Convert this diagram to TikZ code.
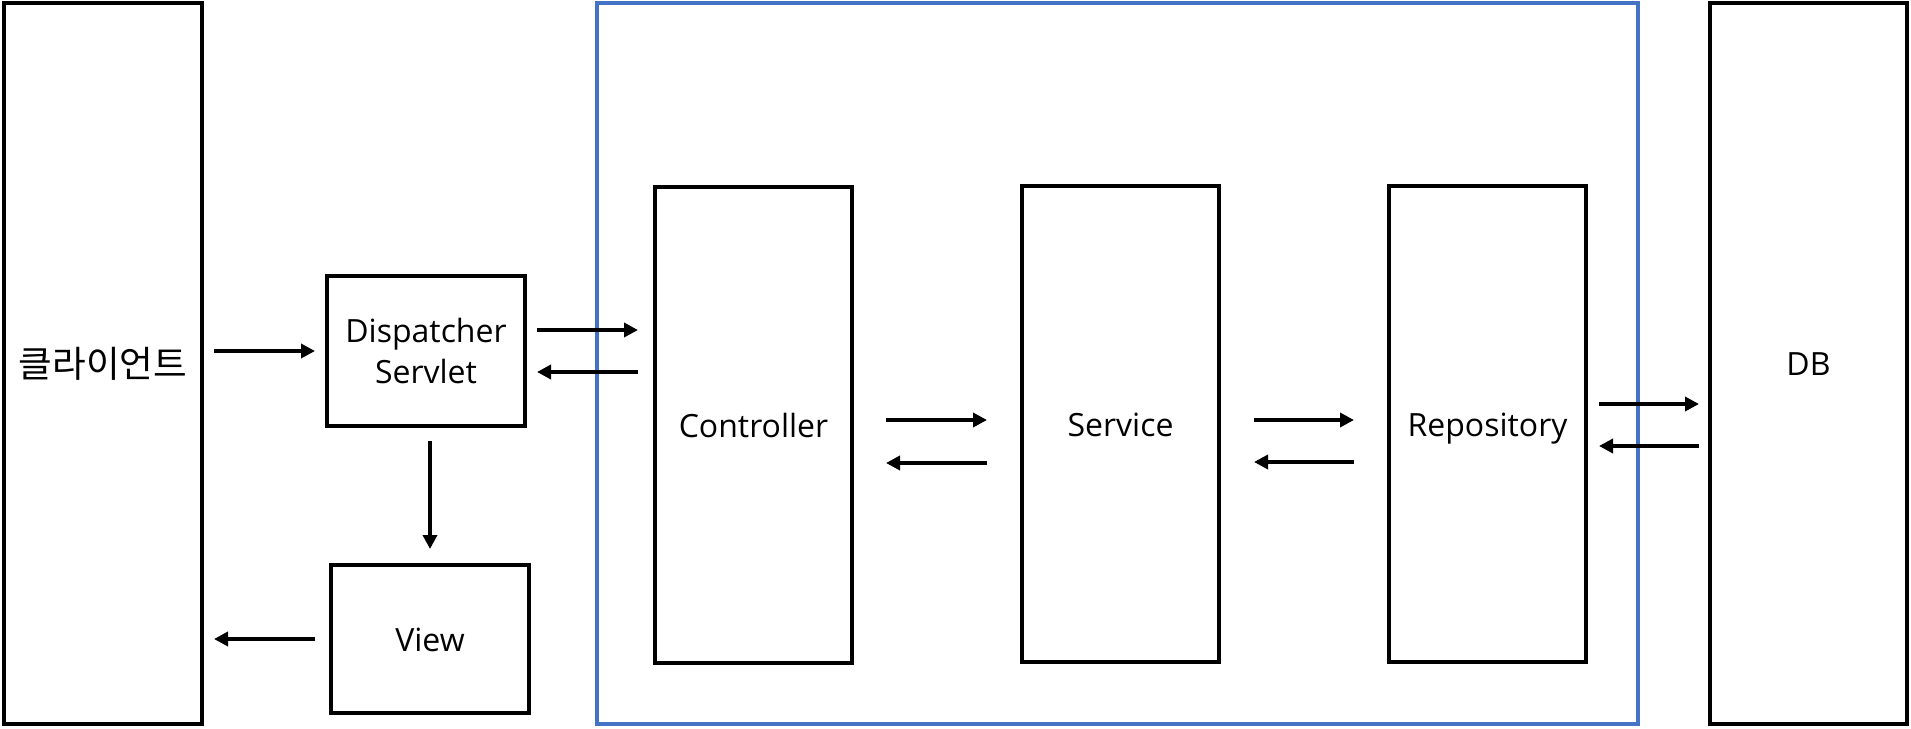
\documentclass[tikz,border=0pt]{standalone}
\usepackage{fontspec}
\setmainfont{Open Sans}
\newfontfamily\kofont{Noto Sans CJK KR}
\usetikzlibrary{arrows.meta}
\definecolor{frameblue}{HTML}{4472C4}
\newcommand\labstrut{\rule[-4.05pt]{0pt}{20.5pt}}
\begin{document}
\begin{tikzpicture}[x=0.5pt,y=-0.5pt,
  box/.style={draw=black,line width=2pt,rectangle,inner sep=0pt,outer sep=0pt,
    align=center,font=\fontsize{16pt}{20.5pt}\selectfont},
  arr/.style={line width=2pt,-{Triangle[length=7pt,width=7pt]}}]
\useasboundingbox (0,0) rectangle (1911,728);
\node[draw=frameblue,line width=2pt,minimum width=520.5pt,minimum height=360.5pt,inner sep=0pt,outer sep=0pt] (layer) at (1117.5,363.5) {};
\node[box,minimum width=99pt,minimum height=360.5pt] (client) at (103,363.5) {\kofont\fontsize{18.3pt}{22pt}\selectfont 클라이언트};
\node[box,minimum width=99pt,minimum height=75pt] (disp) at (426,351) {Dispatcher\labstrut\\Servlet\labstrut};
\node[box,minimum width=99pt,minimum height=74pt] (view) at (430,639) {View\labstrut};
\node[box,minimum width=98.5pt,minimum height=238pt] (ctrl) at (753.5,425) {Controller\labstrut};
\node[box,minimum width=98.5pt,minimum height=238pt] (serv) at (1120.5,424) {Service\labstrut};
\node[box,minimum width=98.5pt,minimum height=238pt] (repo) at (1487.5,424) {Repository\labstrut};
\node[box,minimum width=98.5pt,minimum height=360.5pt] (db) at (1808.5,363.5) {DB\labstrut};
% client -> dispatcher
\draw[arr] ([xshift=6pt]client.east |- disp.west) -- ([xshift=-6pt]disp.west);
% dispatcher <-> controller
\draw[arr] ([xshift=6pt,yshift=10.5pt]disp.east) -- ([xshift=-8.5pt,yshift=10.5pt]disp.east -| ctrl.west);
\draw[arr] ([xshift=-8.5pt,yshift=-10.5pt]disp.east -| ctrl.west) -- ([xshift=6pt,yshift=-10.5pt]disp.east);
% dispatcher -> view
\draw[arr] ([yshift=-7.5pt]disp.south -| view.north) -- ([yshift=8pt]view.north);
% view -> client
\draw[arr] ([xshift=-8pt]view.west) -- ([xshift=6pt]view.west -| client.east);
% controller <-> service
\draw[arr] ([xshift=17pt,yshift=2.5pt]ctrl.east) -- ([xshift=-17.5pt,yshift=2.5pt]ctrl.east -| serv.west);
\draw[arr] ([xshift=-17.5pt,yshift=-19pt]ctrl.east -| serv.west) -- ([xshift=17pt,yshift=-19pt]ctrl.east);
% service <-> repository
\draw[arr] ([xshift=17.5pt,yshift=2pt]serv.east) -- ([xshift=-17.5pt,yshift=2pt]serv.east -| repo.west);
\draw[arr] ([xshift=-17.5pt,yshift=-19pt]serv.east -| repo.west) -- ([xshift=17.5pt,yshift=-19pt]serv.east);
% repository <-> db
\draw[arr] ([xshift=6.5pt,yshift=10pt]repo.east) -- ([xshift=-5.5pt,yshift=10pt]repo.east -| db.west);
\draw[arr] ([xshift=-5.5pt,yshift=-11pt]repo.east -| db.west) -- ([xshift=6.5pt,yshift=-11pt]repo.east);
\end{tikzpicture}
\end{document}
